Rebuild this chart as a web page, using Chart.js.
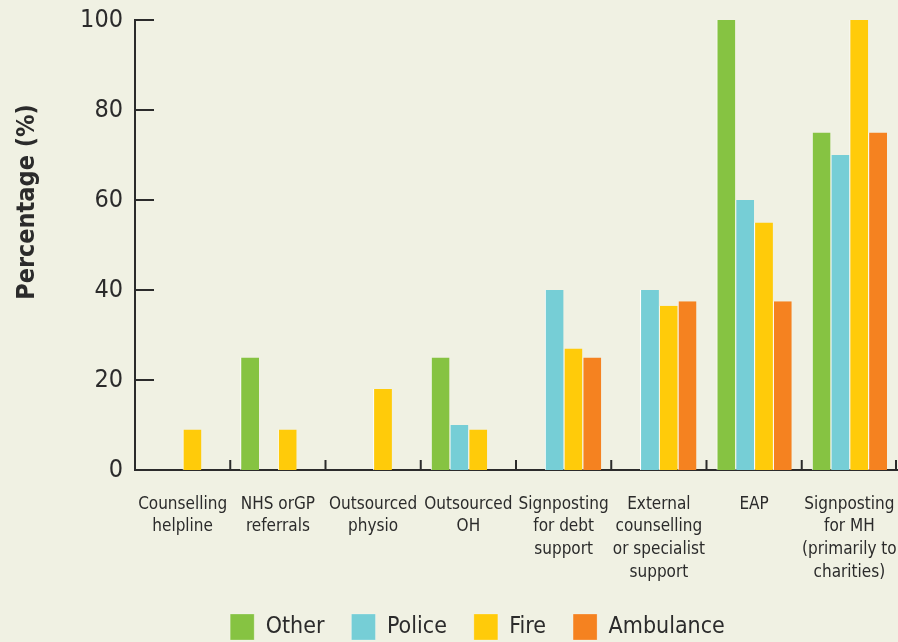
<!DOCTYPE html>
<html>
<head>
<meta charset="utf-8">
<script src="https://cdn.jsdelivr.net/npm/chart.js@4"></script>
<style>
  html, body { margin: 0; padding: 0; background: #f0f1e3; }
  #wrap { width: 898px; height: 642px; position: relative; }
</style>
</head>
<body>
<div id="wrap"><canvas id="barChart"></canvas></div>
<script>
    // categories (multi-line labels as in the original)
    const categories = [
        ['Counselling', 'helpline'],
        ['NHS orGP', 'referrals'],
        ['Outsourced', 'physio'],
        ['Outsourced', 'OH'],
        ['Signposting', 'for debt', 'support'],
        ['External', 'counselling', 'or specialist', 'support'],
        ['EAP'],
        ['Signposting', 'for MH', '(primarily to', 'charities)']
    ];
    const seriesNames = ['Other', 'Police', 'Fire', 'Ambulance'];
    const other     = [0, 25, 0, 25, 0, 0, 100, 75];
    const police    = [0, 0, 0, 10, 40, 40, 60, 70];
    const fire      = [9, 9, 18, 9, 27, 36.5, 55, 100];
    const ambulance = [0, 0, 0, 0, 25, 37.5, 37.5, 75];
    const yTicks    = [0, 20, 40, 60, 80, 100];

    const colors = ['#86c342', '#76ced6', '#ffcb0a', '#f58220'];
    const ink = '#2b2b2b';
    const FONT = '"Liberation Sans Narrow", "Arial Narrow", "DejaVu Sans Condensed", sans-serif';

    const data = {
        labels: categories,
        datasets: [other, police, fire, ambulance].map((vals, i) => ({
            label: seriesNames[i],
            data: vals,
            backgroundColor: colors[i],
            borderColor: '#ffffff',
            borderWidth: { left: 1, right: 0, top: 0, bottom: 0 },
            borderSkipped: false,
            barPercentage: 1,
            categoryPercentage: 0.79
        }))
    };

    // inward axis ticks, category dividers and the y title
    const axisDecor = {
        id: 'axisDecor',
        afterDraw(chart) {
            const ctx = chart.ctx;
            const x = chart.scales.x, y = chart.scales.y;
            const area = chart.chartArea;
            ctx.save();
            ctx.strokeStyle = ink;
            ctx.lineWidth = 2;
            // y ticks pointing into the plot
            yTicks.forEach(v => {
                const py = Math.round(y.getPixelForValue(v));
                ctx.beginPath();
                ctx.moveTo(area.left, py);
                ctx.lineTo(area.left + 19, py);
                ctx.stroke();
            });
            // category boundaries, short marks above the x axis
            for (let i = 1; i <= categories.length; i++) {
                let px;
                if (i < categories.length) {
                    px = (x.getPixelForValue(i - 1) + x.getPixelForValue(i)) / 2;
                } else {
                    px = area.right - 1;
                }
                ctx.beginPath();
                ctx.moveTo(px, area.bottom);
                ctx.lineTo(px, area.bottom - 10);
                ctx.stroke();
            }
            // y title
            ctx.translate(27, 202);
            ctx.rotate(-Math.PI / 2);
            ctx.fillStyle = ink;
            ctx.font = 'bold 25px ' + FONT;
            ctx.textAlign = 'center';
            ctx.textBaseline = 'middle';
            ctx.fillText('Percentage (%)', 0, 0);
            ctx.restore();
        }
    };

    const options = {
        responsive: true,
        maintainAspectRatio: false,
        animation: false,
        layout: { padding: { left: 58, right: 1, top: 20, bottom: -8 } },
        plugins: {
            tooltip: { enabled: false },
            legend: {
                position: 'bottom',
                labels: {
                    color: ink,
                    font: { family: FONT, size: 23 },
                    boxWidth: 24,
                    boxHeight: 26,
                    padding: 27
                }
            }
        },
        scales: {
            x: {
                grid: { display: false, drawTicks: false },
                border: { display: true, color: ink, width: 2 },
                ticks: {
                    color: ink,
                    font: { family: FONT, size: 17, lineHeight: 1.33 },
                    padding: 23,
                    maxRotation: 0,
                    autoSkip: false
                },
                afterFit(scale) {
                    scale.height = 117;
                    scale.paddingLeft = 0;
                    scale.paddingRight = 0;
                }
            },
            y: {
                min: 0,
                max: 100,
                afterBuildTicks(scale) { scale.ticks = yTicks.map(v => ({ value: v })); },
                grid: { display: false, drawTicks: false },
                border: { display: true, color: ink, width: 2 },
                ticks: {
                    color: ink,
                    font: { family: FONT, size: 25 },
                    padding: 12
                },
                afterFit(scale) {
                    scale.width = 77;
                    scale.paddingTop = 0;
                    scale.paddingBottom = 0;
                }
            }
        }
    };

    let barChartInstance;
    function createBarChart() {
        const ctx = document.getElementById('barChart').getContext('2d');
        barChartInstance = new Chart(ctx, {
            type: 'bar',
            data: data,
            options: options,
            plugins: [axisDecor]
        });
        return barChartInstance;
    }
    createBarChart();
</script>
</body>
</html>
